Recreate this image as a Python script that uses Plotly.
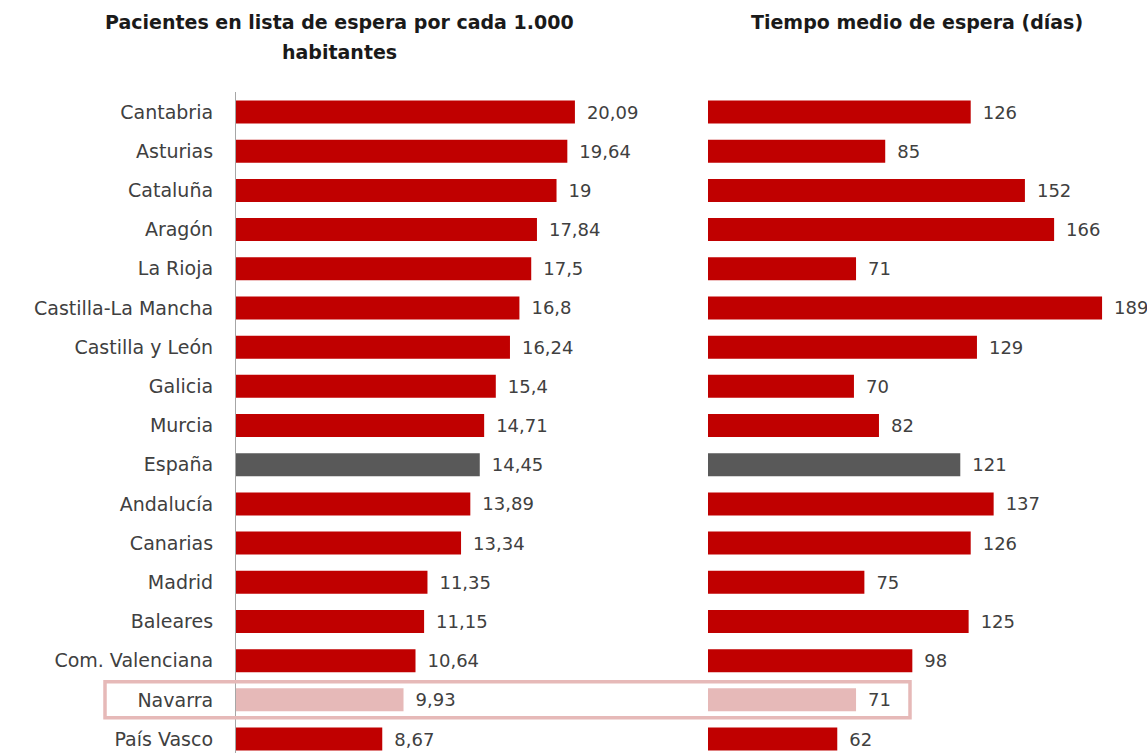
import plotly.graph_objects as go

regions = ["Cantabria", "Asturias", "Cataluña", "Aragón", "La Rioja", "Castilla-La Mancha",
           "Castilla y León", "Galicia", "Murcia", "España", "Andalucía", "Canarias", "Madrid",
           "Baleares", "Com. Valenciana", "Navarra", "País Vasco"]
pacientes = [20.09, 19.64, 19, 17.84, 17.5, 16.8, 16.24, 15.4, 14.71, 14.45, 13.89, 13.34,
             11.35, 11.15, 10.64, 9.93, 8.67]
dias = [126, 85, 152, 166, 71, 189, 129, 70, 82, 121, 137, 126, 75, 125, 98, 71, 62]

RED = "#C00000"
GREY = "#595959"
PINK = "#E6B9B8"

def color_for(r):
    if r == "España":
        return GREY
    if r == "Navarra":
        return PINK
    return RED

colors = [color_for(r) for r in regions]
FONT = "DejaVu Sans"
W, H = 1147, 753

def fmt(v):
    return "\u2002" + f"{v:g}".replace(".", ",")

fig = go.Figure()
fig.add_trace(go.Bar(
    y=regions, x=pacientes, orientation="h", marker=dict(color=colors, line=dict(width=0)),
    text=[fmt(v) for v in pacientes], textposition="outside", cliponaxis=False,
    textfont=dict(family=FONT, size=18, color="#404040"),
    xaxis="x", yaxis="y", hoverinfo="skip",
))
fig.add_trace(go.Bar(
    y=regions, x=dias, orientation="h", marker=dict(color=colors, line=dict(width=0)),
    text=[fmt(v) for v in dias], textposition="outside", cliponaxis=False,
    textfont=dict(family=FONT, size=18, color="#404040"),
    xaxis="x2", yaxis="y", hoverinfo="skip",
))

row_px = 39.19
y_bottom = (H - 112) / row_px
top_frac = 1 - (112 - row_px / 2) / H

fig.update_layout(
    width=W, height=H,
    margin=dict(l=0, r=0, t=0, b=0),
    paper_bgcolor="white", plot_bgcolor="white",
    showlegend=False, bargap=0.413,
    font=dict(family=FONT, color="#404040"),
    xaxis=dict(domain=[236 / W, 600 / W], range=[0, 364 / 16.87], visible=False),
    xaxis2=dict(domain=[708 / W, 1.0], range=[0, 439 / 2.085], visible=False, anchor="y"),
    yaxis=dict(domain=[0, top_frac], range=[y_bottom, -0.5], anchor="x",
               showline=True, linecolor="#A6A6A6", linewidth=1.2,
               showgrid=False, zeroline=False, ticks="",
               ticklabelstandoff=18, tickfont=dict(family=FONT, size=19, color="#404040")),
)

fig.add_shape(type="rect", xref="paper", yref="y",
              x0=105 / W, x1=910 / W, y0=15 - 18 / row_px, y1=15 + 18 / row_px,
              line=dict(color=PINK, width=3.5), fillcolor="rgba(0,0,0,0)")

title_font = dict(family=FONT, size=19, color="#1A1A1A")
fig.add_annotation(xref="paper", yref="paper", x=339 / W, y=1 - 22 / H, yanchor="middle",
                   xanchor="center", showarrow=False,
                   text="<b>Pacientes en lista de espera por cada 1.000</b>", font=title_font)
fig.add_annotation(xref="paper", yref="paper", x=339 / W, y=1 - 52 / H, yanchor="middle",
                   xanchor="center", showarrow=False,
                   text="<b>habitantes</b>", font=title_font)
fig.add_annotation(xref="paper", yref="paper", x=917 / W, y=1 - 22 / H, yanchor="middle",
                   xanchor="center", showarrow=False,
                   text="<b>Tiempo medio de espera (días)</b>", font=title_font)

fig.write_html("out.html", config={"displayModeBar": False},
               post_script="document.body.style.margin='0px';")
